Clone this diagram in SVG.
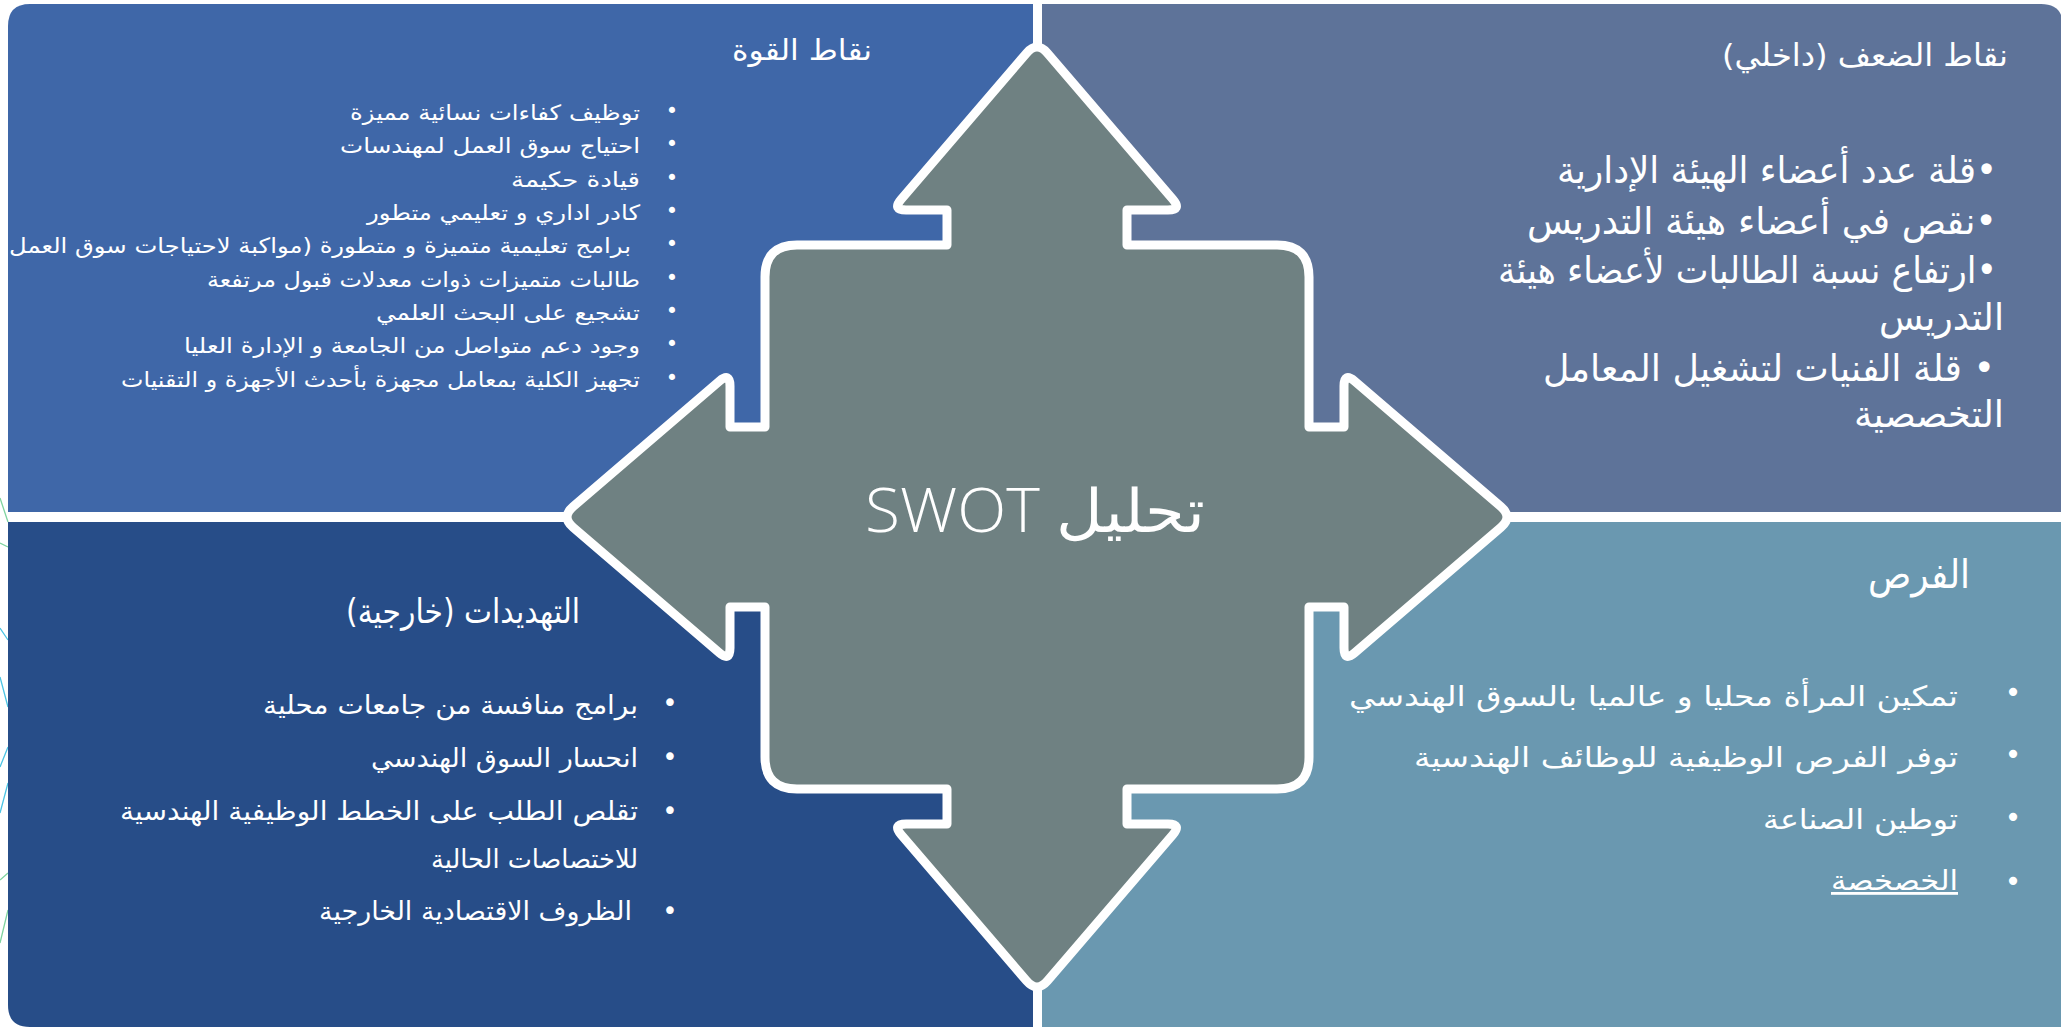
<svg xmlns="http://www.w3.org/2000/svg" width="2061" height="1027" viewBox="0 0 2061 1027">
<style>
.ar{font-family:"DejaVu Sans",sans-serif;fill:#ffffff;direction:rtl;text-anchor:start;}
.bl{font-family:"DejaVu Sans",sans-serif;fill:#ffffff;text-anchor:middle;}
.s20{font-size:21px;}
.s25{font-size:26px;}
.s27{font-size:28px;}
.s36{font-size:37px;}
.deco-g{stroke:#7fd3a0;stroke-width:1.3;fill:none;}
.deco-c{stroke:#4cc4e4;stroke-width:1.3;fill:none;}
</style>
<rect x="0" y="0" width="2061" height="1027" fill="#ffffff"/>
<g id="decoration">
<path class="deco-g" d="M0,498 L8,522 M0,543 L8,547 M8,873 L0,880 M8,910 L0,943"/>
<path class="deco-c" d="M0,628 L8,640 M0,677 L8,707 M8,747 L0,767 M8,783 L0,813"/>
</g>
<g id="strengths">
<path d="M30,4 H1033 V512 H8 V26 Q8,4 30,4 Z" fill="#3f67a8"/>
<text class="ar" x="872" y="60" font-size="29" textLength="140" lengthAdjust="spacingAndGlyphs">نقاط القوة</text>
<g class="bl s20">
<text x="672" y="118">•</text><text x="672" y="151">•</text><text x="672" y="185">•</text>
<text x="672" y="218">•</text><text x="672" y="251">•</text><text x="672" y="285">•</text>
<text x="672" y="318">•</text><text x="672" y="351">•</text><text x="672" y="385">•</text>
</g>
<g class="s20">
<text class="ar" x="640" y="120" textLength="290" lengthAdjust="spacingAndGlyphs">توظيف كفاءات نسائية مميزة</text>
<text class="ar" x="640" y="153" textLength="300" lengthAdjust="spacingAndGlyphs">احتياج سوق العمل لمهندسات</text>
<text class="ar" x="640" y="187" textLength="129" lengthAdjust="spacingAndGlyphs">قيادة حكيمة</text>
<text class="ar" x="640" y="220" textLength="273" lengthAdjust="spacingAndGlyphs">كادر اداري و تعليمي متطور</text>
<text class="ar" x="631" y="253" textLength="622" lengthAdjust="spacingAndGlyphs">برامج تعليمية متميزة و متطورة (مواكبة لاحتياجات سوق العمل</text>
<text class="ar" x="640" y="287" textLength="433" lengthAdjust="spacingAndGlyphs">طالبات متميزات ذوات معدلات قبول مرتفعة</text>
<text class="ar" x="640" y="320" textLength="264" lengthAdjust="spacingAndGlyphs">تشجيع على البحث العلمي</text>
<text class="ar" x="640" y="353" textLength="456" lengthAdjust="spacingAndGlyphs">وجود دعم متواصل من الجامعة و الإدارة العليا</text>
<text class="ar" x="640" y="387" textLength="519" lengthAdjust="spacingAndGlyphs">تجهيز الكلية بمعامل مجهزة بأحدث الأجهزة و التقنيات</text>
</g>
</g>
<g id="weaknesses">
<path d="M1042,4 H2041 Q2063,4 2063,26 V512 H1042 Z" fill="#5e7399"/>
<text class="ar" x="2008" y="66" font-size="31" textLength="286" lengthAdjust="spacingAndGlyphs">نقاط الضعف (داخلي)</text>
<g class="s36">
<text class="ar" x="1997" y="183" textLength="440" lengthAdjust="spacingAndGlyphs">•قلة عدد أعضاء الهيئة الإدارية</text>
<text class="ar" x="1997" y="234" textLength="470" lengthAdjust="spacingAndGlyphs">•نقص في أعضاء هيئة التدريس</text>
<text class="ar" x="1997" y="283" textLength="499" lengthAdjust="spacingAndGlyphs">•ارتفاع نسبة الطالبات لأعضاء هيئة</text>
<text class="ar" x="2004" y="330" textLength="125" lengthAdjust="spacingAndGlyphs">التدريس</text>
<text class="ar" x="1995" y="381" textLength="452" lengthAdjust="spacingAndGlyphs">• قلة الفنيات لتشغيل المعامل</text>
<text class="ar" x="2004" y="427" textLength="150" lengthAdjust="spacingAndGlyphs">التخصصية</text>
</g>
</g>
<g id="threats">
<path d="M8,522 H1033 V1027 H30 Q8,1027 8,1005 Z" fill="#274d88"/>
<text class="ar" x="580" y="623" font-size="34" textLength="234" lengthAdjust="spacingAndGlyphs">التهديدات (خارجية)</text>
<g class="bl s25">
<text x="670" y="712">•</text><text x="670" y="766">•</text><text x="670" y="820">•</text><text x="670" y="920">•</text>
</g>
<g class="s25">
<text class="ar" x="638" y="714" textLength="375" lengthAdjust="spacingAndGlyphs">برامج منافسة  من جامعات محلية</text>
<text class="ar" x="638" y="767" textLength="267" lengthAdjust="spacingAndGlyphs">انحسار السوق الهندسي</text>
<text class="ar" x="638" y="820" textLength="518" lengthAdjust="spacingAndGlyphs">تقلص الطلب على الخطط الوظيفية الهندسية</text>
<text class="ar" x="638" y="868" textLength="207" lengthAdjust="spacingAndGlyphs">للاختصاصات الحالية</text>
<text class="ar" x="632" y="920" textLength="313" lengthAdjust="spacingAndGlyphs">الظروف الاقتصادية الخارجية</text>
</g>
</g>
<g id="opportunities">
<rect x="1042" y="522" width="1019" height="505" fill="#6a98b0"/>
<text class="ar" x="1970" y="588" font-size="40" textLength="102" lengthAdjust="spacingAndGlyphs">الفرص</text>
<g class="bl s27">
<text x="2013" y="702">•</text><text x="2013" y="764">•</text><text x="2013" y="827">•</text><text x="2013" y="891">•</text>
</g>
<g class="s27">
<text class="ar" x="1958" y="706" textLength="609" lengthAdjust="spacingAndGlyphs">تمكين  المرأة محليا و عالميا بالسوق الهندسي</text>
<text class="ar" x="1958" y="767" textLength="544" lengthAdjust="spacingAndGlyphs">توفر الفرص الوظيفية للوظائف الهندسية</text>
<text class="ar" x="1958" y="829" textLength="195" lengthAdjust="spacingAndGlyphs">توطين الصناعة</text>
<text class="ar" x="1958" y="890" textLength="127" lengthAdjust="spacingAndGlyphs" text-decoration="underline">الخصخصة</text>
</g>
</g>
<g id="connectors"></g>
<g id="swot-center">
<path transform="translate(1037,517)" fill="#6f8182" stroke="#ffffff" stroke-width="9" stroke-linejoin="round" d="M-272,-240 Q-272,-272 -240,-272 L-90,-272 L-90,-307 L-131,-307 Q-145,-307 -135.9,-317.6 L-10.4,-463.9 Q0,-476 10.4,-463.9 L135.9,-317.6 Q145,-307 131,-307 L90,-307 L90,-272 L240,-272 Q272,-272 272,-240 L272,-90 L307,-90 L307,-131 Q307,-145 317.6,-135.9 L463.9,-10.4 Q476,0 463.9,10.4 L317.6,135.9 Q307,145 307,131 L307,90 L272,90 L272,240 Q272,272 240,272 L90,272 L90,307 L131,307 Q145,307 135.9,317.6 L10.4,463.9 Q0,476 -10.4,463.9 L-135.9,317.6 Q-145,307 -131,307 L-90,307 L-90,272 L-240,272 Q-272,272 -272,240 L-272,90 L-307,90 L-307,131 Q-307,145 -317.6,135.9 L-463.9,10.4 Q-476,0 -463.9,-10.4 L-317.6,-135.9 Q-307,-145 -307,-131 L-307,-90 L-272,-90 Z"/>
<text x="1205" y="532" font-family="'Open Sans','DejaVu Sans',sans-serif" font-weight="300" font-size="60" fill="#ffffff" direction="rtl" text-anchor="start" textLength="340" lengthAdjust="spacingAndGlyphs">تحليل SWOT</text>
</g>
</svg>
